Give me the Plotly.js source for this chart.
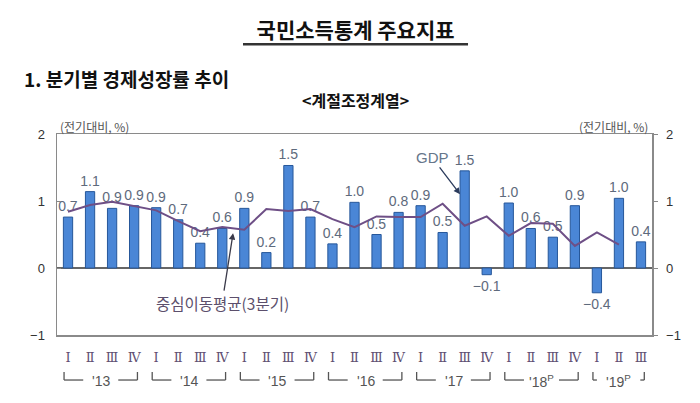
<!DOCTYPE html>
<html>
<head>
<meta charset="utf-8">
<script src="https://cdn.plot.ly/plotly-3.0.1.min.js"></script>
<style>html,body{margin:0;padding:0;background:#fff;}#chart{width:700px;height:403px;}</style>
</head>
<body>
<div id="chart"></div>
<script>
// ---- data ----
var years = ["'13", "'14", "'15", "'16", "'17", "'18<sup>P</sup>", "'19<sup>P</sup>"];
var quartersPerYear = [4, 4, 4, 4, 4, 4, 3];
var quarterNames = ["Ⅰ", "Ⅱ", "Ⅲ", "Ⅳ"];
var gdp = [0.76, 1.14, 0.89, 0.93, 0.90, 0.72, 0.37, 0.59, 0.89, 0.23, 1.53, 0.76, 0.36, 0.98, 0.50, 0.83,
           0.93, 0.53, 1.45, -0.10, 0.97, 0.59, 0.46, 0.93, -0.37, 1.04, 0.39];
var gdpLabels = ["0.7", "1.1", "0.9", "0.9", "0.9", "0.7", "0.4", "0.6", "0.9", "0.2", "1.5", "0.7", "0.4", "1.0",
                 "0.5", "0.8", "0.9", "0.5", "1.5", "−0.1", "1.0", "0.6", "0.5", "0.9", "−0.4", "1.0", "0.4"];
var movingAvg = [0.84, 0.94, 0.99, 0.92, 0.86, 0.70, 0.55, 0.61, 0.57, 0.88, 0.85, 0.88, 0.73, 0.61, 0.77, 0.76,
                 0.76, 0.96, 0.63, 0.77, 0.48, 0.67, 0.66, 0.33, 0.53, 0.35, null];

// ---- build categories ----
var periods = [], tickText = [], groups = [];
var idx = 0;
years.forEach(function (y, i) {
  var start = idx;
  for (var q = 0; q < quartersPerYear[i]; q++) {
    periods.push(y + " Q" + (q + 1));
    tickText.push(quarterNames[q]);
    idx++;
  }
  groups.push({label: y, start: start, end: idx - 1, n: quartersPerYear[i]});
});

var numFont = "Liberation Sans, Arial, sans-serif";
var krFont = "Noto Sans CJK KR, sans-serif";

var traces = [
  {
    type: "bar", x: periods, y: gdp, text: gdpLabels, textposition: "outside", constraintext: "none",
    textfont: {family: numFont, size: 14, color: "#5e6a7c"}, cliponaxis: false,
    width: 0.42, marker: {color: "#4a86d6", line: {color: "#26579a", width: 1}},
    hoverinfo: "skip", showlegend: false
  },
  {
    type: "scatter", mode: "lines", x: periods, y: movingAvg, yaxis: "y2",
    line: {color: "#6e4f86", width: 2}, connectgaps: false, showlegend: false, hoverinfo: "skip"
  }
];

var shapes = [
  // title underline
  {type: "line", xref: "paper", yref: "paper", x0: 0.3126, x1: 0.6908, y0: 1.446, y1: 1.446,
   line: {color: "#333", width: 2.5}}
];
var annotations = [
  {xref: "paper", yref: "paper", x: -0.059, y: 1.274, xanchor: "left", yanchor: "middle", showarrow: false,
   text: "<b>1. 분기별 경제성장률 추이</b>", font: {family: krFont, size: 19, color: "#111"}},
  {xref: "paper", yref: "paper", x: 0.501, y: 1.169, xanchor: "center", yanchor: "middle", showarrow: false,
   text: "<b>&lt;계절조정계열&gt;</b>", font: {family: krFont, size: 16, color: "#111"}},
  {xref: "paper", yref: "paper", x: 0.002, y: 1.035, xanchor: "left", yanchor: "middle", showarrow: false,
   text: "(전기대비, %)", font: {family: krFont, size: 12, color: "#555"}},
  {xref: "paper", yref: "paper", x: 0.997, y: 1.035, xanchor: "right", yanchor: "middle", showarrow: false,
   text: "(전기대비, %)", font: {family: krFont, size: 12, color: "#555"}},
  {xref: "x", yref: "y", x: 17.79, y: 1.10, ax: -28, ay: -37, text: "GDP", showarrow: true,
   arrowhead: 2, arrowsize: 1, arrowwidth: 1.3, arrowcolor: "#2b3b5c",
   font: {family: numFont, size: 15, color: "#66768a"}},
  {xref: "x", yref: "y", x: 7.49, y: 0.52, ax: -11, ay: 70, text: "중심이동평균(3분기)", showarrow: true,
   arrowhead: 2, arrowsize: 1, arrowwidth: 1.3, arrowcolor: "#3a3a4a",
   font: {family: krFont, size: 15.5, color: "#5c4f6c"}}
];

// year brackets under the quarter labels
var yTop = -0.184, yBot = -0.224;
groups.forEach(function (g) {
  var l = g.start - 0.18, r = g.end + 0.15;
  var arm = g.n === 4 ? 0.87 : 0.18;
  var lc = {color: "#555", width: 1.3};
  shapes.push({type: "line", xref: "x", yref: "paper", x0: l, x1: l, y0: yTop, y1: yBot, line: lc});
  shapes.push({type: "line", xref: "x", yref: "paper", x0: l, x1: l + arm, y0: yBot, y1: yBot, line: lc});
  shapes.push({type: "line", xref: "x", yref: "paper", x0: r - arm, x1: r, y0: yBot, y1: yBot, line: lc});
  shapes.push({type: "line", xref: "x", yref: "paper", x0: r, x1: r, y0: yBot, y1: yTop, line: lc});
  annotations.push({xref: "x", yref: "paper", x: (g.start + g.end) / 2, y: -0.229, xanchor: "center",
    yanchor: "middle", showarrow: false, text: g.label, font: {family: numFont, size: 14, color: "#555"}});
});

var axisLine = "#8a8a8a";
var layout = {
  width: 700, height: 403,
  margin: {l: 57, r: 48, t: 134, b: 68, pad: 0},
  paper_bgcolor: "#fff", plot_bgcolor: "#fff",
  title: {text: "<b>국민소득통계 주요지표</b>", x: 0.508, xanchor: "center", y: 0.923, yanchor: "middle",
          font: {family: krFont, size: 21, color: "#111"}},
  xaxis: {type: "category", tickvals: periods, ticktext: tickText, range: [-0.5, 26.5],
          showgrid: false, showline: true, linecolor: axisLine, linewidth: 1.5, mirror: true,
          ticks: "", ticklabelstandoff: 10,
          tickfont: {family: "DejaVu Serif, Noto Sans CJK KR, serif", size: 13, color: "#5f4f72"}},
  yaxis: {range: [-1, 2], tickvals: [-1, 0, 1, 2], ticktext: ["−1", "0", "1", "2"], showgrid: false,
          zeroline: true, zerolinecolor: "#666", zerolinewidth: 1.5, showline: true, linecolor: axisLine,
          linewidth: 1.5, ticks: "inside", ticklen: 4, tickcolor: "#888", ticklabelstandoff: 8,
          tickfont: {family: numFont, size: 13, color: "#333"}},
  yaxis2: {overlaying: "y", side: "right", range: [-1, 2], tickvals: [-1, 0, 1, 2],
           ticktext: ["−1", "0", "1", "2"], showgrid: false, zeroline: false, showline: true,
           linecolor: axisLine, linewidth: 1.5, ticks: "outside", ticklen: 4, tickcolor: "#888",
           ticklabelstandoff: 6, tickfont: {family: numFont, size: 13, color: "#333"}},
  shapes: shapes,
  annotations: annotations,
  showlegend: false
};

Plotly.newPlot("chart", traces, layout, {staticPlot: true, displayModeBar: false});
</script>
</body>
</html>
